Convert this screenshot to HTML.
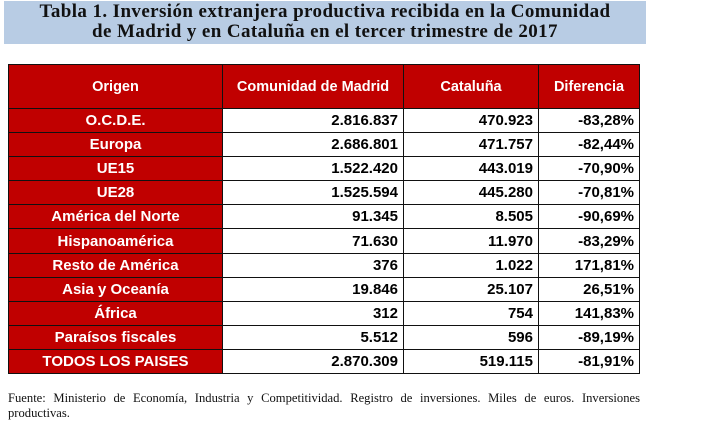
<!DOCTYPE html>
<html><head><meta charset="utf-8"><style>
body{margin:0;width:701px;height:433px;background:#fff;position:relative;overflow:hidden;font-family:"Liberation Sans",sans-serif}
#title{position:absolute;left:4px;top:1px;width:642px;height:43px;background:#b8cce4;font-family:"Liberation Serif",serif;font-weight:bold;font-size:19px;letter-spacing:0.4px;line-height:20px;text-align:center;padding-top:1px;box-sizing:border-box;color:#111}
table{position:absolute;left:8px;top:64px;border-collapse:collapse;font-weight:bold;font-size:15px}
td,th{border:1.5px solid #111;padding:0 5px;height:24.1px;box-sizing:border-box}
th{background:#c00000;color:#fff;height:44px;font-size:14.5px}
td.o{background:#c00000;color:#fff;text-align:center}
td.n{text-align:right;color:#000}
#foot{position:absolute;left:8px;top:391px;width:632px;font-family:"Liberation Serif",serif;font-size:12.6px;line-height:15px;text-align:justify;text-align-last:left;color:#111}
</style></head><body>
<div id="title">Tabla 1. Inversión extranjera productiva recibida en la Comunidad<br>de Madrid y en Cataluña en el tercer trimestre de 2017</div>
<table>
<colgroup><col style="width:214px"><col style="width:181px"><col style="width:135px"><col style="width:101px"></colgroup>
<tr><th>Origen</th><th>Comunidad de Madrid</th><th>Cataluña</th><th>Diferencia</th></tr>
<tr><td class="o">O.C.D.E.</td><td class="n">2.816.837</td><td class="n">470.923</td><td class="n">-83,28%</td></tr>
<tr><td class="o">Europa</td><td class="n">2.686.801</td><td class="n">471.757</td><td class="n">-82,44%</td></tr>
<tr><td class="o">UE15</td><td class="n">1.522.420</td><td class="n">443.019</td><td class="n">-70,90%</td></tr>
<tr><td class="o">UE28</td><td class="n">1.525.594</td><td class="n">445.280</td><td class="n">-70,81%</td></tr>
<tr><td class="o">América del Norte</td><td class="n">91.345</td><td class="n">8.505</td><td class="n">-90,69%</td></tr>
<tr><td class="o">Hispanoamérica</td><td class="n">71.630</td><td class="n">11.970</td><td class="n">-83,29%</td></tr>
<tr><td class="o">Resto de América</td><td class="n">376</td><td class="n">1.022</td><td class="n">171,81%</td></tr>
<tr><td class="o">Asia y Oceanía</td><td class="n">19.846</td><td class="n">25.107</td><td class="n">26,51%</td></tr>
<tr><td class="o">África</td><td class="n">312</td><td class="n">754</td><td class="n">141,83%</td></tr>
<tr><td class="o">Paraísos fiscales</td><td class="n">5.512</td><td class="n">596</td><td class="n">-89,19%</td></tr>
<tr><td class="o">TODOS LOS PAISES</td><td class="n">2.870.309</td><td class="n">519.115</td><td class="n">-81,91%</td></tr>
</table>
<div id="foot">Fuente: Ministerio de Economía, Industria y Competitividad. Registro de inversiones. Miles de euros. Inversiones productivas.</div>
</body></html>
